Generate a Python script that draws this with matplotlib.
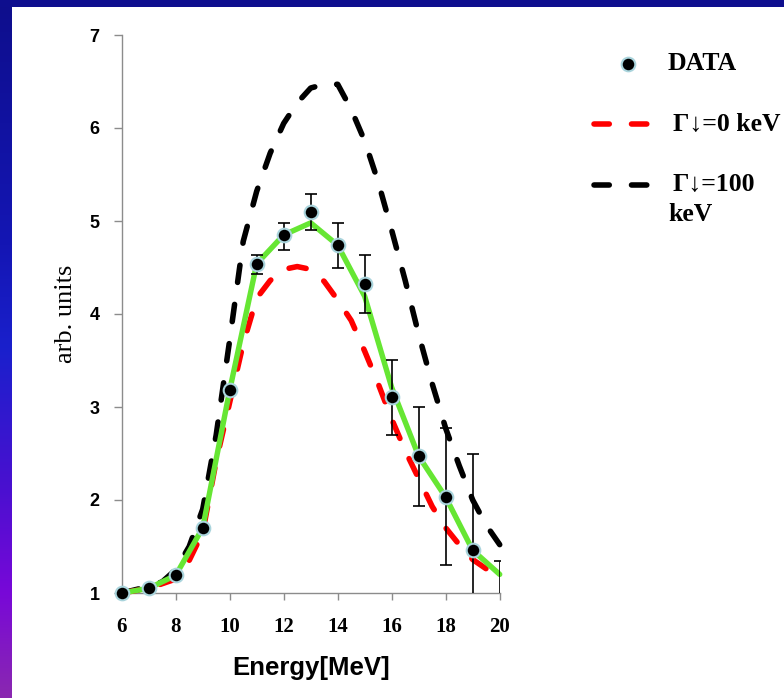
import numpy as np
import matplotlib
matplotlib.use('Agg')
import matplotlib.pyplot as plt
from matplotlib.colors import LinearSegmentedColormap
from matplotlib.lines import Line2D
from matplotlib.patches import Rectangle

plt.rcParams['lines.scale_dashes'] = False

# ---------------- data ----------------
data_energy = [6, 7, 8, 9, 10, 11, 12, 13, 14, 15, 16, 17, 18, 19]
data_values = [1.00, 1.05, 1.19, 1.70, 3.18, 4.54, 4.85, 5.10, 4.74, 4.32, 3.11, 2.47, 2.03, 1.46]

err_energy = [11, 12, 13, 14, 15, 16, 17, 18, 19, 20]
err_low = [4.43, 4.69, 4.90, 4.50, 4.01, 2.70, 1.94, 1.30, 0.43, 0.50]
err_high = [4.63, 4.98, 5.29, 4.98, 4.63, 3.51, 3.00, 2.77, 2.49, 1.34]

fit_energy = [6, 7, 8, 9, 10, 11, 12, 13, 14, 15, 16, 17, 18, 19, 20]
fit_values = [1.00, 1.05, 1.19, 1.70, 3.18, 4.54, 4.85, 4.98, 4.74, 4.19, 3.21, 2.47, 2.03, 1.46, 1.20]

g0_energy = [6, 7, 8, 8.5, 9, 9.5, 10, 10.5, 11, 11.5, 12, 12.5, 13, 13.5, 14, 14.5,
             15, 15.5, 16, 16.5, 17, 17.5, 18, 18.5, 19, 19.5, 20]
g0_values = [1.00, 1.05, 1.15, 1.35, 1.65, 2.42, 3.05, 3.68, 4.17, 4.36, 4.48, 4.51, 4.48, 4.35, 4.15, 3.93,
             3.60, 3.25, 2.87, 2.53, 2.23, 1.93, 1.70, 1.52, 1.36, 1.26, 1.18]

g100_energy = [6, 7, 7.5, 8, 8.5, 9, 9.5, 10, 10.5, 11, 11.5, 12, 12.5, 13, 13.5, 14, 14.5,
               15, 15.5, 16, 16.5, 17, 17.5, 18, 18.5, 19, 19.5, 20]
g100_values = [1.00, 1.07, 1.12, 1.25, 1.50, 1.90, 2.70, 3.72, 4.78, 5.32, 5.73, 6.05, 6.27, 6.43, 6.47, 6.47, 6.20,
               5.86, 5.42, 4.90, 4.36, 3.78, 3.25, 2.77, 2.37, 2.00, 1.73, 1.52]

x_ticks = [6, 8, 10, 12, 14, 16, 18, 20]
y_ticks = [1, 2, 3, 4, 5, 6, 7]
legend_labels = ['DATA', 'Γ↓=0 keV', 'Γ↓=100', 'keV']

# ---------------- figure ----------------
W, H = 784, 698
fig = plt.figure(figsize=(W / 100, H / 100), dpi=100, facecolor='white')

# background frame: gradient strip on the left and bar on top
cmap = LinearSegmentedColormap.from_list('bg', [(0.0, '#0e0e8c'), (0.35, '#1416b4'), (0.5, '#1a20cc'),
                                                (0.7, '#4a10d0'), (0.85, '#7808d8'), (1.0, '#8a28b0')])
bg = fig.add_axes([0, 0, 12 / W, 1])
bg.imshow(np.linspace(0, 1, 256).reshape(-1, 1), aspect='auto', cmap=cmap, origin='upper')
bg.set_axis_off()
fig.patches.append(Rectangle((0, 1 - 7 / H), 1, 7 / H, transform=fig.transFigure,
                             facecolor='#0e0e8e', edgecolor='none'))

ax = fig.add_axes([121.7 / W, 1 - 593 / H, 378 / W, 558 / H])
ax.set_xlim(6, 20)
ax.set_ylim(1, 7)

sans_bold = dict(family=['Liberation Sans', 'DejaVu Sans'], weight='bold')
serif_bold = dict(family=['Liberation Serif', 'DejaVu Serif'], weight='bold')
serif = dict(family=['Liberation Serif', 'DejaVu Serif'])

dash_style = dict(lw=4.0, dashes=(12.5, 16), dash_capstyle='round', solid_capstyle='round')
ax.plot(g100_energy, g100_values, color='black', zorder=2, clip_on=False, **dash_style)
ax.plot(g0_energy, g0_values, color='#ff0000', zorder=3, clip_on=False, **dash_style)
ax.plot(fit_energy, fit_values, color='#66e633', lw=3.9, zorder=4, clip_on=False,
        solid_joinstyle='round', solid_capstyle='round')

mid = [(a + b) / 2 for a, b in zip(err_low, err_high)]
half = [(b - a) / 2 for a, b in zip(err_low, err_high)]
ax.errorbar(err_energy, mid, yerr=half, fmt='none', ecolor='black', elinewidth=1.2,
            capsize=4.5, capthick=1.2, zorder=5)

ax.plot(data_energy, data_values, 'o', color='black', markersize=9.8, markeredgecolor='#a9d4dc',
        markeredgewidth=1.5, zorder=6, clip_on=False)

for s in ['top', 'right']:
    ax.spines[s].set_visible(False)
for s in ['left', 'bottom']:
    ax.spines[s].set_color('#8c8c8c')
    ax.spines[s].set_linewidth(1.0)

ax.set_xticks(x_ticks)
ax.set_yticks(y_ticks)
ax.set_xticklabels([str(v) for v in x_ticks], fontsize=15, **serif_bold)
ax.set_yticklabels([str(v) for v in y_ticks], fontsize=13, **sans_bold)
ax.tick_params(axis='y', direction='out', length=6, width=1.0, color='#8c8c8c', pad=10)
ax.tick_params(axis='x', direction='out', length=5, width=1.0, color='#8c8c8c', pad=12)

ax.set_xlabel('Energy[MeV]', fontsize=18.5, labelpad=14, **sans_bold)
ax.set_ylabel('arb. units', fontsize=19, labelpad=9, **serif)

# ---------------- legend (outside axes) ----------------
def fx(px):
    return px / W


def fy(py):
    return 1 - py / H

fig.add_artist(Line2D([fx(628)], [fy(64)], marker='o', color='black', markersize=9.8,
                      markeredgecolor='#a9d4dc', markeredgewidth=1.5, transform=fig.transFigure))
fig.add_artist(Line2D([fx(594), fx(652)], [fy(124), fy(124)], color='#ff0000', lw=4.0,
                      dashes=(11, 16), dash_capstyle='round', transform=fig.transFigure))
fig.add_artist(Line2D([fx(594), fx(652)], [fy(185), fy(185)], color='black', lw=4.0,
                      dashes=(11, 16), dash_capstyle='round', transform=fig.transFigure))

fig.text(fx(668), fy(64), legend_labels[0], fontsize=18.5, va='center', ha='left', **serif_bold)
fig.text(fx(673), fy(124), legend_labels[1], fontsize=18.5, va='center', ha='left', **serif_bold)
fig.text(fx(673), fy(185), legend_labels[2], fontsize=18.5, va='center', ha='left', **serif_bold)
fig.text(fx(668), fy(215), legend_labels[3], fontsize=18.5, va='center', ha='left', **serif_bold)

fig.savefig('out.png', dpi=100, facecolor='white')
